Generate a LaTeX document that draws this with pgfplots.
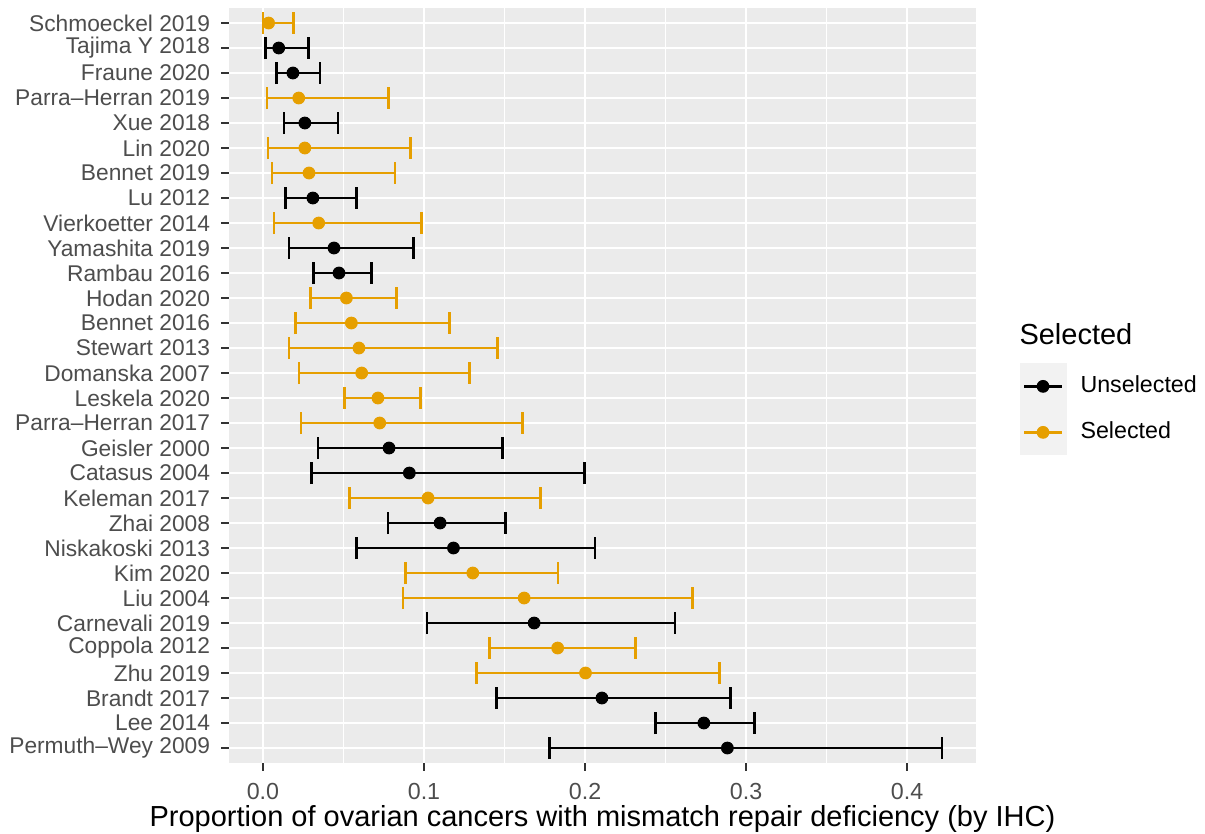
\documentclass[border=0pt]{standalone}
\usepackage{pgfplots}
\pgfplotsset{compat=1.18}
\usepackage{pgfplotstable}
\usepackage{fontspec}
\setmainfont{Liberation Sans}
\definecolor{panelbg}{HTML}{EBEBEB}
\definecolor{tickgray}{HTML}{333333}
\definecolor{labgray}{HTML}{4D4D4D}
\definecolor{selorange}{HTML}{E69F00}
\definecolor{keybg}{HTML}{F2F2F2}

\pgfplotstableread{
row est lo hi
2 0.0098 0.0017 0.0284
3 0.0186 0.0083 0.0354
5 0.0260 0.0130 0.0466
8 0.0310 0.0141 0.0582
10 0.0441 0.0162 0.0934
11 0.0472 0.0315 0.0673
18 0.0783 0.0342 0.1489
19 0.0909 0.0300 0.1998
21 0.1100 0.0776 0.1505
22 0.1183 0.0580 0.2061
25 0.1684 0.1019 0.2559
28 0.2105 0.1450 0.2905
29 0.2738 0.2436 0.3054
30 0.2884 0.1780 0.4217
}\unsel

\pgfplotstableread{
row est lo hi
1 0.0035 0.0000 0.0190
4 0.0222 0.0025 0.0779
6 0.0260 0.0031 0.0917
7 0.0286 0.0056 0.0820
9 0.0346 0.0068 0.0986
12 0.0518 0.0296 0.0829
13 0.0549 0.0203 0.1160
14 0.0596 0.0162 0.1458
15 0.0613 0.0224 0.1284
16 0.0714 0.0507 0.0980
17 0.0725 0.0236 0.1611
20 0.1025 0.0539 0.1725
23 0.1303 0.0887 0.1833
24 0.1622 0.0870 0.2668
26 0.1830 0.1408 0.2313
27 0.2003 0.1327 0.2835
}\sel

\begin{document}
\begin{tikzpicture}[x=1pt,y=1pt]
\path[use as bounding box] (0,0) rectangle (482,333.2);
\begin{axis}[
  at={(91.6pt,28pt)}, anchor=south west,
  scale only axis, width=298.8pt, height=302pt,
  xmin=-0.0211, xmax=0.4428, ymin=0.4, ymax=30.6, y dir=reverse,
  axis background/.style={fill=panelbg},
  axis line style={draw=none},
  tick align=outside, tick pos=left,
  major tick length=3pt, minor tick length=0pt,
  tick style={tickgray, line width=1.07pt},
  xtick={0,0.1,0.2,0.3,0.4}, xticklabels={0.0,0.1,0.2,0.3,0.4},
  minor xtick={0.05,0.15,0.25,0.35},
  ytick={1,...,30},
  yticklabels={Schmoeckel 2019,Tajima Y 2018,Fraune 2020,Parra--Herran 2019,Xue 2018,Lin 2020,Bennet 2019,Lu 2012,Vierkoetter 2014,Yamashita 2019,Rambau 2016,Hodan 2020,Bennet 2016,Stewart 2013,Domanska 2007,Leskela 2020,Parra--Herran 2017,Geisler 2000,Catasus 2004,Keleman 2017,Zhai 2008,Niskakoski 2013,Kim 2020,Liu 2004,Carnevali 2019,Coppola 2012,Zhu 2019,Brandt 2017,Lee 2014,Permuth--Wey 2009},
  xmajorgrids, xminorgrids, ymajorgrids,
  major grid style={white, line width=1.07pt},
  minor grid style={white, line width=0.53pt},
  ticklabel style={font=\fontsize{9.3}{11}\selectfont, text=labgray, inner sep=0pt},
  xticklabel style={anchor=north, yshift=-5pt},
  yticklabel style={anchor=east, xshift=-4.4pt, font=\fontsize{9.1}{11}\selectfont},
  xlabel={Proportion of ovarian cancers with mismatch repair deficiency (by IHC)},
  xlabel style={font=\fontsize{11.6}{14}\selectfont, at={(axis description cs:0.5,0)}, anchor=base, yshift=-25.3pt, inner sep=0pt},
  legend style={at={(axis description cs:1.0576,0.53)}, anchor=north west, draw=none, fill=none, inner sep=0pt, row sep=0pt, column sep=5.6pt, font=\fontsize{9.3}{11}\selectfont, nodes={inner sep=0pt}},
  legend cell align=left,
]
\addplot[black, only marks, mark=*, mark size=2.35pt, mark options={fill=black, draw=none},
  legend image code/.code={
    \fill[keybg] (0pt,-9pt) rectangle (18.4pt,9pt);
    \draw[black, line width=1.07pt] (1.6pt,0pt) -- (16.8pt,0pt);
    \fill[black] (9.2pt,0pt) circle (2.35pt);},
  error bars/.cd, x dir=both, x explicit,
  error bar style={line width=1.07pt, black},
  error mark=|, error mark options={line width=1.07pt, black, mark size=4.4pt}]
  table[x=est, y=row, x error plus expr=\thisrow{hi}-\thisrow{est}, x error minus expr=\thisrow{est}-\thisrow{lo}] {\unsel};
\addlegendentry{Unselected}
\addplot[selorange, only marks, mark=*, mark size=2.35pt, mark options={fill=selorange, draw=none},
  legend image code/.code={
    \fill[keybg] (0pt,-9pt) rectangle (18.4pt,9pt);
    \draw[selorange, line width=1.07pt] (1.6pt,0pt) -- (16.8pt,0pt);
    \fill[selorange] (9.2pt,0pt) circle (2.35pt);},
  error bars/.cd, x dir=both, x explicit,
  error bar style={line width=1.07pt, selorange},
  error mark=|, error mark options={line width=1.07pt, selorange, mark size=4.4pt}]
  table[x=est, y=row, x error plus expr=\thisrow{hi}-\thisrow{est}, x error minus expr=\thisrow{est}-\thisrow{lo}] {\sel};
\addlegendentry{Selected}
\end{axis}
\node[anchor=base west, inner sep=0pt, font=\fontsize{11.6}{14}\selectfont] at (407.6,195.6) {Selected};
\end{tikzpicture}
\end{document}
